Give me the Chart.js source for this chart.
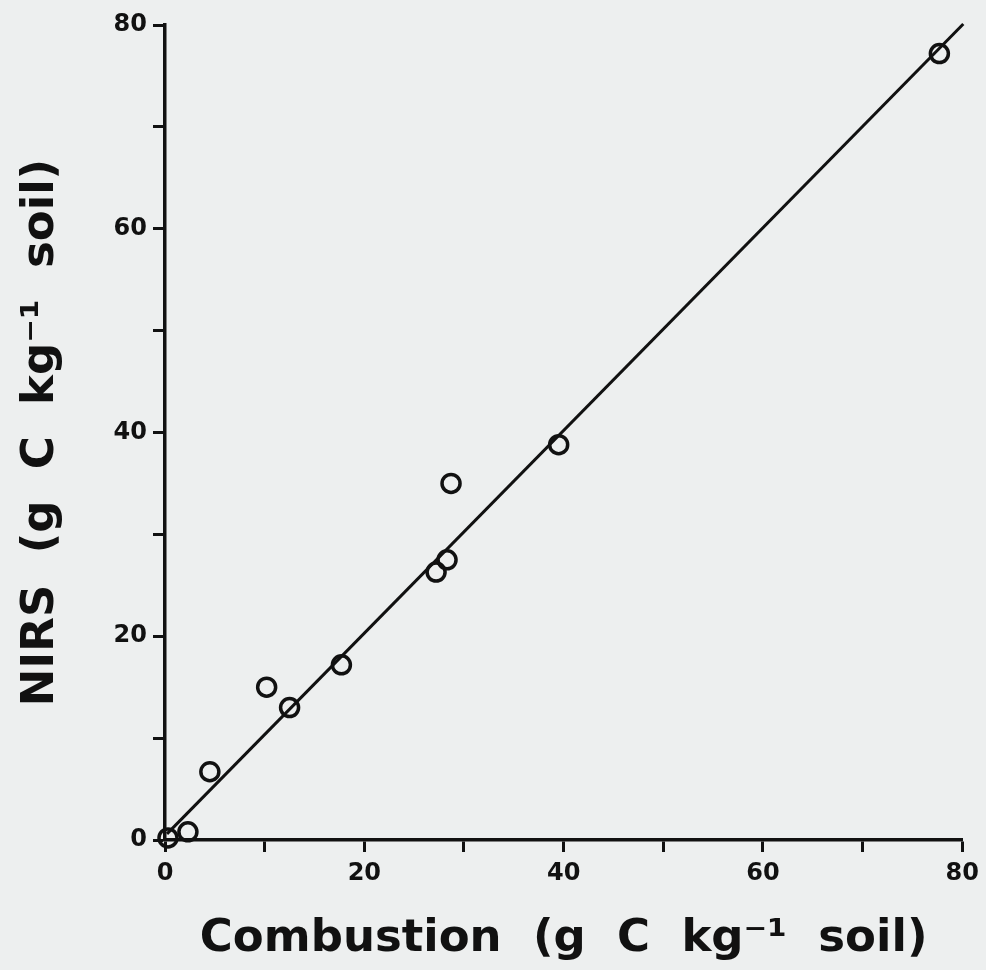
<!DOCTYPE html>
<html>
<head>
<meta charset="utf-8">
<script src="https://cdn.jsdelivr.net/npm/chart.js@4/dist/chart.umd.min.js"></script>
<style>
    html, body { margin: 0; padding: 0; background: #edefef; }
    #wrap { width: 986px; height: 970px; }
</style>
</head>
<body>
<div id="wrap"><canvas id="grafica"></canvas></div>
<script>
// valores
const combustion = [0.3, 2.3, 4.5, 10.2, 12.5, 17.7, 27.2, 28.3, 28.7, 39.5, 77.7];
const nirs = [0.2, 0.8, 6.7, 15.0, 13.0, 17.2, 26.3, 27.5, 35.0, 38.8, 77.2];
const rectaX = [0.2, 80.1];
const rectaY = [0.6, 80.1];
const ticksX = [0, 20, 40, 60, 80];
const ticksY = [0, 20, 40, 60, 80];

const negro = "#111";
const fuente = "'DejaVu Sans', sans-serif";

const fondo = {
    id: "fondo",
    beforeDraw(chart) {
        const ctx = chart.ctx;
        ctx.save();
        ctx.fillStyle = "#edefef";
        ctx.fillRect(0, 0, chart.width, chart.height);
        ctx.restore();
    }
};

function escala(titulo, etiquetas, pad) {
    return {
        type: "linear",
        min: 0,
        max: 80,
        border: { display: true, color: negro, width: 3.5 },
        grid: { drawOnChartArea: false, drawTicks: true, tickLength: 12, tickWidth: 3, color: negro },
        ticks: {
            stepSize: 10,
            color: negro,
            padding: pad,
            font: { family: fuente, size: 24, weight: "bold" },
            callback: (v) => etiquetas.includes(v) ? String(v) : ""
        },
        title: {
            display: true,
            text: titulo,
            color: negro,
            font: { family: fuente, size: 45, weight: "bold" }
        }
    };
}

const opcionesX = escala("Combustion  (g  C  kg\u207B\u00B9  soil)", ticksX, 7);
opcionesX.title.padding = { top: 0, bottom: 4 };
opcionesX.afterFit = (s) => { s.height = 130; };

const opcionesY = escala("NIRS  (g  C  kg\u207B\u00B9  soil)", ticksY, 6);
opcionesY.title.padding = { top: 14, bottom: 0 };
opcionesY.afterFit = (s) => { s.width = 165; };

new Chart(document.getElementById("grafica"), {
    type: "scatter",
    data: {
        datasets: [
            {
                label: "Recta",
                type: "line",
                data: rectaX.map((x, i) => ({ x: x, y: rectaY[i] })),
                borderColor: negro,
                borderWidth: 3,
                pointRadius: 0,
                clip: false
            },
            {
                label: "Muestras",
                data: combustion.map((x, i) => ({ x: x, y: nirs[i] })),
                pointStyle: "circle",
                pointRadius: 9,
                pointBorderWidth: 3.5,
                pointBorderColor: negro,
                pointBackgroundColor: "rgba(0,0,0,0)",
                clip: false
            }
        ]
    },
    options: {
        responsive: true,
        maintainAspectRatio: false,
        animation: false,
        layout: { padding: { left: 0, right: 21, top: 25, bottom: 0 } },
        plugins: {
            legend: { display: false },
            tooltip: { enabled: false }
        },
        scales: { x: opcionesX, y: opcionesY }
    },
    plugins: [fondo]
});
</script>
</body>
</html>
